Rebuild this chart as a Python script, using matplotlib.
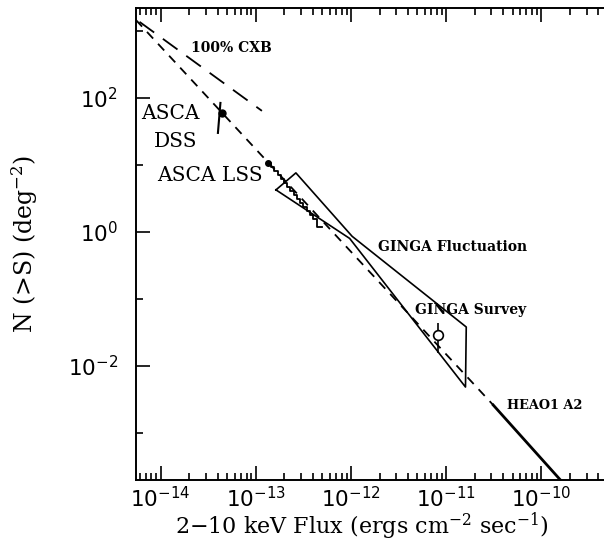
import matplotlib
matplotlib.use("Agg")
import matplotlib.pyplot as plt
from matplotlib.ticker import LogLocator, NullFormatter, FixedLocator

plt.rcParams['mathtext.fontset'] = 'dejavusans'

# best-fit logN-logS line (dashed part, then HEAO1 A2 solid part)
fit_s = [5.5e-15, 3.13e-11]
fit_n = [1450.0, 2.62e-3]
heao_s = [3.13e-11, 1.7e-10]
heao_n = [2.62e-3, 1.8e-4]

# 100% CXB line
cxb_s = [6.0e-15, 1.16e-13]
cxb_n = [1360.0, 64.0]

# ASCA DSS point and its bar
dss_s = [4.38e-14]
dss_n = [59.7]
dss_bar_s = [4.25e-14, 4.0e-14]
dss_bar_n = [84.0, 30.0]

# ASCA LSS point and staircase
lss_s = [1.34e-13]
lss_n = [10.7]
lss_steps_s = [1.34e-13, 1.45e-13, 1.57e-13, 1.70e-13, 1.84e-13, 1.98e-13, 2.14e-13,
               2.31e-13, 2.50e-13, 2.70e-13, 2.92e-13, 3.16e-13, 3.42e-13, 3.70e-13,
               4.0e-13, 4.4e-13, 4.4e-13, 4.95e-13]
lss_steps_n = [10.7, 9.3, 8.1, 7.1, 6.2, 5.4, 4.7, 4.1, 3.6, 3.1, 2.7, 2.35, 2.05, 1.8,
               1.55, 1.5, 1.2, 1.2]

# GINGA fluctuation bow-tie
fluc_s = [1.63e-13, 2.64e-13, 1.03e-12, 1.63e-11, 1.6e-11, 0.97e-12, 1.63e-13]
fluc_n = [4.24, 7.6, 0.86, 0.0382, 4.86e-3, 0.80, 4.24]

# GINGA survey point
surv_s = [8.24e-12]
surv_n = [0.029]
surv_lo = [0.0156]
surv_hi = [0.0438]

fig = plt.figure(figsize=(6.04, 5.42), dpi=100)
ax = fig.add_axes([0.225, 0.1144, 0.775, 0.8708])

ax.plot(fit_s, fit_n, color='black', lw=1.3, dashes=(5, 4))
ax.plot(heao_s, heao_n, color='black', lw=2.0)
ax.plot(cxb_s, cxb_n, color='black', lw=1.3, dashes=(10, 6))

ax.plot(dss_bar_s, dss_bar_n, color='black', lw=1.5)
ax.plot(dss_s, dss_n, 'o', color='black', ms=5)

ax.plot(lss_steps_s, lss_steps_n, color='black', lw=1.3, drawstyle='steps-post')
ax.plot(lss_s, lss_n, 'o', color='black', ms=4)

ax.plot(fluc_s, fluc_n, color='black', lw=1.2)

ax.vlines(surv_s, surv_lo, surv_hi, color='black', lw=1.2)
ax.plot(surv_s, surv_n, 'o', mfc='white', mec='black', mew=1.2, ms=7)

ax.set_xscale('log')
ax.set_yscale('log')
ax.set_xlim(10 ** -14.26, 10 ** -9.34)
ax.set_ylim(10 ** -3.70, 10 ** 3.34)

ax.xaxis.set_major_locator(FixedLocator([1e-14, 1e-13, 1e-12, 1e-11, 1e-10]))
ax.xaxis.set_minor_locator(LogLocator(base=10, subs=range(2, 10)))
ax.xaxis.set_minor_formatter(NullFormatter())
ax.yaxis.set_major_locator(FixedLocator([1e-2, 1e0, 1e2]))
ax.yaxis.set_minor_locator(FixedLocator([1e-3, 1e-1, 1e1, 1e3]))
ax.yaxis.set_minor_formatter(NullFormatter())

ax.tick_params(which='both', direction='in', top=True, right=False, width=1.2)
ax.tick_params(which='major', length=10, labelsize=15.5)
ax.tick_params(which='minor', length=5)
ax.tick_params(axis='x', which='major', pad=4)
ax.tick_params(axis='y', which='major', pad=13)
for side in ['left', 'bottom', 'top']:
    ax.spines[side].set_linewidth(1.4)
ax.spines['right'].set_visible(False)

ax.set_xlabel(r'2$-$10 keV Flux (ergs cm$\mathregular{^{-2}}$ sec$\mathregular{^{-1}}$)',
              family='DejaVu Serif', fontsize=16)
ax.xaxis.set_label_coords(0.483, -0.064)
ax.set_ylabel(r'N (>S) (deg$\mathregular{^{-2}}$)', family='DejaVu Serif', fontsize=17,
              labelpad=20)

ax.text(2.07e-14, 550, '100% CXB', family='DejaVu Serif', fontweight='bold', fontsize=10,
        va='center')
ax.text(6.3e-15, 58, 'ASCA', family='DejaVu Serif', fontsize=14.5, va='center')
ax.text(8.5e-15, 22, 'DSS', family='DejaVu Serif', fontsize=14.5, va='center')
ax.text(9.1e-15, 7.0, 'ASCA LSS', family='DejaVu Serif', fontsize=14.5, va='center')
ax.text(1.92e-12, 0.60, 'GINGA Fluctuation', family='DejaVu Serif', fontweight='bold',
        fontsize=10, va='center')
ax.text(4.72e-12, 0.0685, 'GINGA Survey', family='DejaVu Serif', fontweight='bold',
        fontsize=10, va='center')
ax.text(4.39e-11, 2.6e-3, 'HEAO1 A2', family='DejaVu Serif', fontweight='bold',
        fontsize=9.3, va='center')

fig.savefig('out.png', dpi=100)
